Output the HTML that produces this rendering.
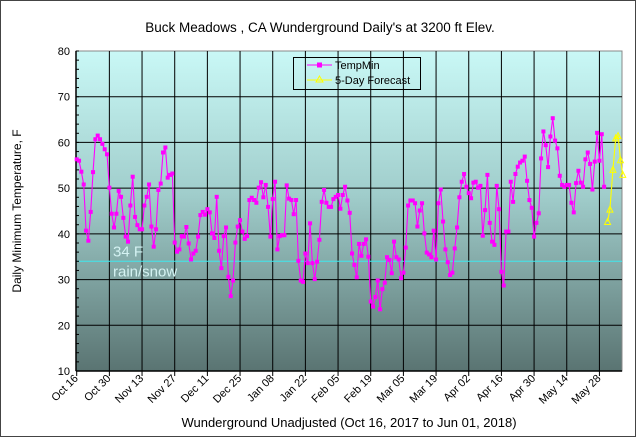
<!DOCTYPE html>
<html><head><meta charset="utf-8">
<style>
html,body{margin:0;padding:0;background:#fff;}
svg{display:block;font-family:"Liberation Sans",Arial,sans-serif;}
</style></head>
<body>
<svg id="chart" width="637" height="438" viewBox="0 0 637 438">
<defs>
<linearGradient id="bg" x1="0" y1="0" x2="0" y2="1">
<stop offset="0" stop-color="#c9f8f6"/>
<stop offset="0.45" stop-color="#a0cdcb"/>
<stop offset="1" stop-color="#5a7472"/>
</linearGradient>
</defs>
<rect x="0.5" y="0.5" width="635" height="436" fill="#fff" stroke="#444"/>
<text x="320" y="32" font-size="13.5" text-anchor="middle" fill="#000">Buck Meadows , CA Wunderground Daily's at 3200 ft Elev.</text>
<rect x="76" y="51" width="546" height="320" fill="url(#bg)" stroke="#888"/>
<g id="grid"></g>
<line id="snowline" stroke="#3fe8ee" stroke-width="1"/>
<text id="snowt1" font-size="15" fill="#d4f2f2">34 F</text>
<text id="snowt2" font-size="15" fill="#d4f2f2">rain/snow</text>
<g id="axes"></g>
<g id="series"></g>
<g id="fc"></g>
<text transform="translate(21,211) rotate(-90)" font-size="12" text-anchor="middle">Daily Minimum Temperature, F</text>
<text x="349" y="427" font-size="13" text-anchor="middle" fill="#000">Wunderground Unadjusted (Oct 16, 2017 to Jun 01, 2018)</text>
<g>
<rect x="293.5" y="57.5" width="127" height="32" fill="none" stroke="#000"/>
<line x1="307" y1="65" x2="332" y2="65" stroke="#ff00ff"/>
<rect x="317" y="62.5" width="5" height="5" fill="#ff00ff"/>
<text x="335" y="69" font-size="11">TempMin</text>
<line x1="307" y1="80" x2="332" y2="80" stroke="#ffff00"/>
<path d="M316,82 L319.5,76 L323,82 Z" fill="none" stroke="#ffff00"/>
<text x="335" y="84" font-size="11">5-Day Forecast</text>
</g>
</svg>
<script>
const xTickLabels = ["Oct 16","Oct 30","Nov 13","Nov 27","Dec 11","Dec 25","Jan 08","Jan 22","Feb 05","Feb 19","Mar 05","Mar 19","Apr 02","Apr 16","Apr 30","May 14","May 28"];
const yTicks = [10,20,30,40,50,60,70,80];
const tempMin = [56.3,56,53.6,50.8,40.7,38.5,44.8,53.5,60.7,61.5,60.7,59.7,58.5,57.4,50.1,44.4,41.4,44.4,49.4,48.1,43.5,39.4,38.3,46.2,52.5,43.7,41.9,41,41,46.2,48.1,50.8,41.6,37.2,
41,49.6,51,57.8,58.9,52.3,52.9,53.2,38.1,36.1,36.6,39.5,39.4,41.5,37.9,34.4,35.7,36.3,39.4,44.1,44.8,44.2,45.4,44.7,40.1,39.1,48.1,36.3,32.5,39.5,41.4,30.6,26.4,
29.8,38.1,41.6,43,40.5,38.9,39.5,47.4,47.9,47.4,46.8,50.1,51.3,48,50.7,45.9,39.4,47.6,51.4,36.6,39.5,39.7,39.7,50.6,47.7,47.4,44.3,47.4,34.1,29.8,29.5,35.7,33.6,42.3,
33.6,30.1,33.9,38.7,47,49.6,46.8,45.9,45.9,47.6,48.1,48.5,45.5,48.5,50.3,47.3,44.6,35.7,33.2,30.5,37.8,35.2,37.8,38.8,35,25.2,24.1,26.2,29.8,23.5,27.9,29.3,34.9,
34.3,31.4,38.3,34.9,34.4,30.3,31.5,37,46.2,47.3,47.3,46.7,41.6,45.1,46.7,40.1,35.9,35.5,34.9,40.7,34.4,46.7,49.7,42.7,36.6,33.8,31,31.5,36.8,41.4,48,51.4,53.1,
50.3,48.9,47.8,51.2,51.4,50.1,50.5,39.6,45.2,52.9,42.4,38.3,37.6,50.5,45.4,31.7,28.7,40.5,40.5,51.4,47,53.1,54.7,55.6,56,56.9,51.6,47.4,45.7,39.4,42.4,44.5,56.5,62.4,
59.4,54.6,61.3,65.3,60.4,58.7,52.7,50.7,50.3,50.7,50.7,46.8,44.7,51.1,53.8,51.2,50.3,56.3,57.8,55.3,49.7,55.8,62.1,56,61.8,50.3];
const forecastDays = [227.5,228.5,229.8,231,232,233,234];
const forecastVals = [42.7,45.4,54.1,61,61.5,56.2,53];
const snowTemp = [34];

const X0=76.7, PX_PER_DAY=32.67/14, L=76, R=622, T=51, B=371;
const xs = d => X0 + d*PX_PER_DAY;
const ys = v => B - (v-10)*(B-T)/70;
const NS="http://www.w3.org/2000/svg";
function mk(tag, parent, attrs){const e=document.createElementNS(NS,tag);for(const k in attrs)e.setAttribute(k,attrs[k]);parent.appendChild(e);return e;}

const grid=document.getElementById('grid'), axes=document.getElementById('axes');
yTicks.forEach(v=>{
  if(v>10&&v<80){const g=mk('line',grid,{x1:L,x2:R,y1:ys(v),y2:ys(v),stroke:'#000','stroke-width':1});
  
  }
  const t=mk('text',axes,{x:70,y:ys(v)+4,'font-size':11,'text-anchor':'end'});
  
  
  t.textContent=v;
});
for(let v=10;v<=80;v+=2){
  const m=mk('line',axes,{x1:L,x2:L+3,y1:ys(v),y2:ys(v),stroke:'#000'});
  
  
}
xTickLabels.forEach((lab,i)=>{
  const x=xs(i*14);
  if(i>0){const g=mk('line',grid,{x1:x,x2:x,y1:T,y2:B,stroke:'#000','stroke-width':1});
  
  }
  const tk=mk('line',axes,{x1:x,x2:x,y1:B,y2:B+5,stroke:'#000'});
  
  
  const t=mk('text',axes,{x:x+2,y:B+8,'font-size':11,'text-anchor':'end',transform:`rotate(-45 ${x+2} ${B+8})`});
  
  
  t.textContent=lab;
});
const ax=mk('line',axes,{x1:L,x2:L,y1:T,y2:B,stroke:'#000','stroke-width':1.5});


const bx=mk('line',axes,{x1:L,x2:R,y1:B,y2:B,stroke:'#000','stroke-width':1.5});



const sy=ys(snowTemp[0]);
const sl=document.getElementById('snowline');
sl.setAttribute('x1',L);sl.setAttribute('x2',R);sl.setAttribute('y1',sy);sl.setAttribute('y2',sy);
const t1=document.getElementById('snowt1');t1.setAttribute('x',113);t1.setAttribute('y',sy-5);
const t2=document.getElementById('snowt2');t2.setAttribute('x',113);t2.setAttribute('y',sy+15);

const ser=document.getElementById('series');
const pl=mk('polyline',ser,{points:tempMin.map((v,i)=>xs(i)+','+ys(v)).join(' '),fill:'none',stroke:'#ff00ff','stroke-width':1.1});


tempMin.forEach((v,i)=>{
  const r=mk('rect',ser,{x:xs(i)-2,y:ys(v)-2,width:4,height:4,fill:'#ff00ff'});
  
  
});
const fc=document.getElementById('fc');
const fl=mk('polyline',fc,{points:forecastVals.map((v,i)=>xs(forecastDays[i])+','+ys(v)).join(' '),fill:'none',stroke:'#ffff00','stroke-width':1.1});


forecastVals.forEach((v,i)=>{
  const x=xs(forecastDays[i]),y=ys(v);
  const p=mk('path',fc,{d:`M${x-3},${y+3} L${x},${y-3} L${x+3},${y+3} Z`,fill:'none',stroke:'#ffff00','stroke-width':1});
  
  
});
</script>
</body></html>
